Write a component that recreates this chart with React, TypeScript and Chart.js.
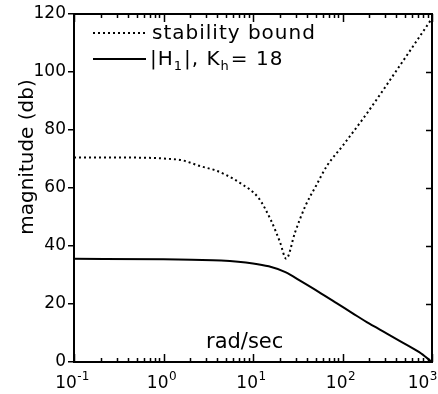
import React, { useEffect, useRef } from 'react';
import { Chart, registerables } from 'chart.js';

Chart.register(...registerables);

// ---- data ----
const boundFreq = [0.1, 0.3, 0.7, 1.2, 1.6, 2.6, 3.7, 5, 7.2, 11.5, 15.8, 20, 23.5, 29.5, 38.6, 50.5, 66.6, 100, 185, 433, 1000];
const boundDb = [70.5, 70.5, 70.4, 70.0, 69.6, 67.5, 66.2, 64.5, 61.7, 56.6, 49, 41.4, 35.6, 44.7, 53.9, 60.7, 67.5, 74.5, 85.5, 102, 118.5];

const h1Freq = [0.1, 1, 4.4, 10, 15, 23, 35, 54, 85, 130, 200, 310, 470, 720, 1000];
const h1Db = [35.6, 35.4, 35, 34, 33, 31, 27.7, 24.2, 20.4, 16.8, 13.2, 9.9, 6.7, 3.4, 0];

const xDecadeExps = ['-1', '0', '1', '2', '3'];
const xMin = 0.1;
const xMax = 1000;
const yMin = 0;
const yMax = 120;
const yStep = 20;

const legendBound = 'stability bound';
const legendH1 = ['|H', '1', '|, K', 'h', '= 18'];
const xTitle = 'rad/sec';
const yTitle = 'magnitude (db)';

const FONT = '"DejaVu Sans", sans-serif';

const decor = {
  id: 'decor',
  afterDraw(chart: any) {
    const { ctx, chartArea: a, scales } = chart;
    const x = scales.x;
    const y = scales.y;
    ctx.save();
    ctx.strokeStyle = '#000';
    ctx.fillStyle = '#000';
    ctx.lineWidth = 2;
    ctx.strokeRect(a.left, a.top, a.right - a.left, a.bottom - a.top);

    // x tick marks (inward, bottom and top)
    ctx.lineWidth = 1.5;
    for (let e = -1; e <= 3; e++) {
      for (let m = 1; m <= 9; m++) {
        const v = m * Math.pow(10, e);
        if (v > xMax + 1e-9) break;
        const px = Math.round(x.getPixelForValue(v)) + 0.5;
        const len = m === 1 ? 8 : 4;
        ctx.beginPath();
        ctx.moveTo(px, a.bottom);
        ctx.lineTo(px, a.bottom - len);
        ctx.moveTo(px, a.top);
        ctx.lineTo(px, a.top + len);
        ctx.stroke();
      }
    }
    // right y ticks inward
    for (let v = yMin + yStep; v < yMax; v += yStep) {
      const py = Math.round(y.getPixelForValue(v)) + 0.5;
      ctx.beginPath();
      ctx.moveTo(a.right, py);
      ctx.lineTo(a.right - 6, py);
      ctx.stroke();
    }

    // x tick labels 10^n
    xDecadeExps.forEach((ex) => {
      const v = Math.pow(10, Number(ex));
      const px = x.getPixelForValue(v);
      ctx.font = `17px ${FONT}`;
      const w1 = ctx.measureText('10').width;
      ctx.font = `12px ${FONT}`;
      const w2 = ctx.measureText(ex).width;
      let left = px - (w1 + w2) / 2 - 2;
      if (left + w1 + w2 > chart.width - 1) left = chart.width - 1 - w1 - w2;
      ctx.textBaseline = 'alphabetic';
      ctx.textAlign = 'left';
      ctx.font = `17px ${FONT}`;
      ctx.fillText('10', left, 388);
      ctx.font = `12px ${FONT}`;
      ctx.fillText(ex, left + w1 + 0.5, 380);
    });

    // x title inside plot
    ctx.font = `21px ${FONT}`;
    ctx.textAlign = 'left';
    ctx.fillText(xTitle, 206, 348);

    // y title
    ctx.save();
    ctx.translate(33, 157);
    ctx.rotate(-Math.PI / 2);
    ctx.textAlign = 'center';
    ctx.font = `20px ${FONT}`;
    ctx.fillText(yTitle, 0, 0);
    ctx.restore();

    // legend
    ctx.lineWidth = 2;
    ctx.setLineDash([2, 3]);
    ctx.beginPath();
    ctx.moveTo(93, 33);
    ctx.lineTo(146, 33);
    ctx.stroke();
    ctx.setLineDash([]);
    ctx.beginPath();
    ctx.moveTo(93, 59);
    ctx.lineTo(146, 59);
    ctx.stroke();

    (ctx as any).letterSpacing = '1px';
    ctx.font = `20px ${FONT}`;
    ctx.textAlign = 'left';
    ctx.fillText(legendBound, 152, 39);

    let cx = 150;
    legendH1.forEach((seg, i) => {
      const sub = i % 2 === 1;
      ctx.font = sub ? `13px ${FONT}` : `20px ${FONT}`;
      ctx.fillText(seg, cx, sub ? 70 : 65);
      cx += ctx.measureText(seg).width + (sub ? 1 : 0);
    });
    (ctx as any).letterSpacing = '0px';
    ctx.restore();
  },
};

export default function App() {
  const ref = useRef<HTMLCanvasElement>(null);
  useEffect(() => {
    if (!ref.current) return;
    const chart = new Chart(ref.current, {
      type: 'line',
      data: {
        datasets: [
          {
            label: legendBound,
            data: boundFreq.map((f, i) => ({ x: f, y: boundDb[i] })),
            borderColor: '#000',
            borderWidth: 2,
            borderDash: [2, 3],
            pointRadius: 0,
            cubicInterpolationMode: 'monotone',
            fill: false,
          },
          {
            label: '|H1|, Kh = 18',
            data: h1Freq.map((f, i) => ({ x: f, y: h1Db[i] })),
            borderColor: '#000',
            borderWidth: 2,
            pointRadius: 0,
            cubicInterpolationMode: 'monotone',
            fill: false,
          },
        ],
      },
      options: {
        responsive: false,
        animation: false,
        devicePixelRatio: 1,
        layout: { padding: { left: 0, right: 6, top: 14, bottom: 0 } },
        plugins: { legend: { display: false }, tooltip: { enabled: false } },
        scales: {
          x: {
            type: 'logarithmic',
            min: xMin,
            max: xMax,
            ticks: { display: false },
            grid: { display: false },
            border: { display: false },
            afterFit: (s: any) => {
              s.height = 32;
            },
          },
          y: {
            min: yMin,
            max: yMax,
            ticks: {
              stepSize: yStep,
              color: '#000',
              padding: 2,
              font: { family: FONT, size: 17 },
            },
            grid: {
              drawOnChartArea: false,
              tickLength: 6,
              color: '#000',
              lineWidth: 1.5,
            },
            border: { display: false },
            afterFit: (s: any) => {
              s.width = 74;
            },
          },
        },
      },
      plugins: [decor],
    } as any);
    return () => chart.destroy();
  }, []);
  return (
    <div style={{ position: 'fixed', left: 0, top: 0, width: 438, height: 394, background: '#fff' }}>
      <canvas ref={ref} width={438} height={394} />
    </div>
  );
}
